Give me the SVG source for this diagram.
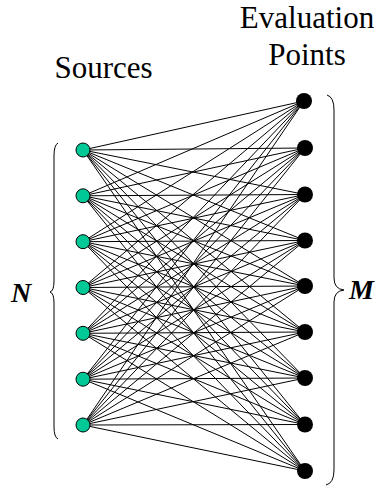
<svg xmlns="http://www.w3.org/2000/svg" width="379" height="488" viewBox="0 0 379 488">
<style>
.lbl{font-family:"Liberation Serif","Times New Roman",serif;font-size:31px;fill:#000;text-anchor:middle}
.var{font-family:"Liberation Serif","Times New Roman",serif;font-size:28px;font-weight:bold;font-style:italic;fill:#000}
.src{fill:#00C896;stroke:#000;stroke-width:1}
.ev{fill:#000}
.edge{stroke:#000;stroke-width:1;fill:none}
.brace{fill:none;stroke:#000;stroke-width:1}
</style>
<rect width="379" height="488" fill="#fff"/>
<text class="lbl" x="103.5" y="78">Sources</text>
<text class="lbl" x="307" y="28">Evaluation</text>
<text class="lbl" x="307" y="65">Points</text>
<text class="var" x="11" y="302">N</text>
<text class="var" x="349" y="299">M</text>
<path class="brace" d="M58,143 Q54,145 54,156 L54,281 Q54,291 50,292 Q54,293 54,303 L54,427 Q54,437 58,439"/>
<path class="brace" d="M327,95 Q334,97 334,110 L334,278 Q334,289 344,290 Q334,291 334,302 L334,470 Q334,483 326,485"/>
<g id="connectors">
<path class="edge" d="M83,150L304,101M83,150L305,148M83,150L305,194.5M83,150L305,240.5M83,150L305,286M83,150L305,332M83,150L305,378M83,150L305,424.5M83,150L305,471"/>
<path class="edge" d="M83,195.8L304,101M83,195.8L305,148M83,195.8L305,194.5M83,195.8L305,240.5M83,195.8L305,286M83,195.8L305,332M83,195.8L305,378M83,195.8L305,424.5M83,195.8L305,471"/>
<path class="edge" d="M83,241.7L304,101M83,241.7L305,148M83,241.7L305,194.5M83,241.7L305,240.5M83,241.7L305,286M83,241.7L305,332M83,241.7L305,378M83,241.7L305,424.5M83,241.7L305,471"/>
<path class="edge" d="M83,287.5L304,101M83,287.5L305,148M83,287.5L305,194.5M83,287.5L305,240.5M83,287.5L305,286M83,287.5L305,332M83,287.5L305,378M83,287.5L305,424.5M83,287.5L305,471"/>
<path class="edge" d="M83,333.3L304,101M83,333.3L305,148M83,333.3L305,194.5M83,333.3L305,240.5M83,333.3L305,286M83,333.3L305,332M83,333.3L305,378M83,333.3L305,424.5M83,333.3L305,471"/>
<path class="edge" d="M83,379.2L304,101M83,379.2L305,148M83,379.2L305,194.5M83,379.2L305,240.5M83,379.2L305,286M83,379.2L305,332M83,379.2L305,378M83,379.2L305,424.5M83,379.2L305,471"/>
<path class="edge" d="M83,425L304,101M83,425L305,148M83,425L305,194.5M83,425L305,240.5M83,425L305,286M83,425L305,332M83,425L305,378M83,425L305,424.5M83,425L305,471"/>
</g>
<g id="s1"><circle class="src" cx="83" cy="150" r="7"/></g>
<g id="s2"><circle class="src" cx="83" cy="195.8" r="7"/></g>
<g id="s3"><circle class="src" cx="83" cy="241.7" r="7"/></g>
<g id="s4"><circle class="src" cx="83" cy="287.5" r="7"/></g>
<g id="s5"><circle class="src" cx="83" cy="333.3" r="7"/></g>
<g id="s6"><circle class="src" cx="83" cy="379.2" r="7"/></g>
<g id="s7"><circle class="src" cx="83" cy="425" r="7"/></g>
<g id="e1"><circle class="ev" cx="304" cy="101" r="8"/></g>
<g id="e2"><circle class="ev" cx="305" cy="148" r="8"/></g>
<g id="e3"><circle class="ev" cx="305" cy="194.5" r="8"/></g>
<g id="e4"><circle class="ev" cx="305" cy="240.5" r="8"/></g>
<g id="e5"><circle class="ev" cx="305" cy="286" r="8"/></g>
<g id="e6"><circle class="ev" cx="305" cy="332" r="8"/></g>
<g id="e7"><circle class="ev" cx="305" cy="378" r="8"/></g>
<g id="e8"><circle class="ev" cx="305" cy="424.5" r="8"/></g>
<g id="e9"><circle class="ev" cx="305" cy="471" r="8"/></g>
</svg>
